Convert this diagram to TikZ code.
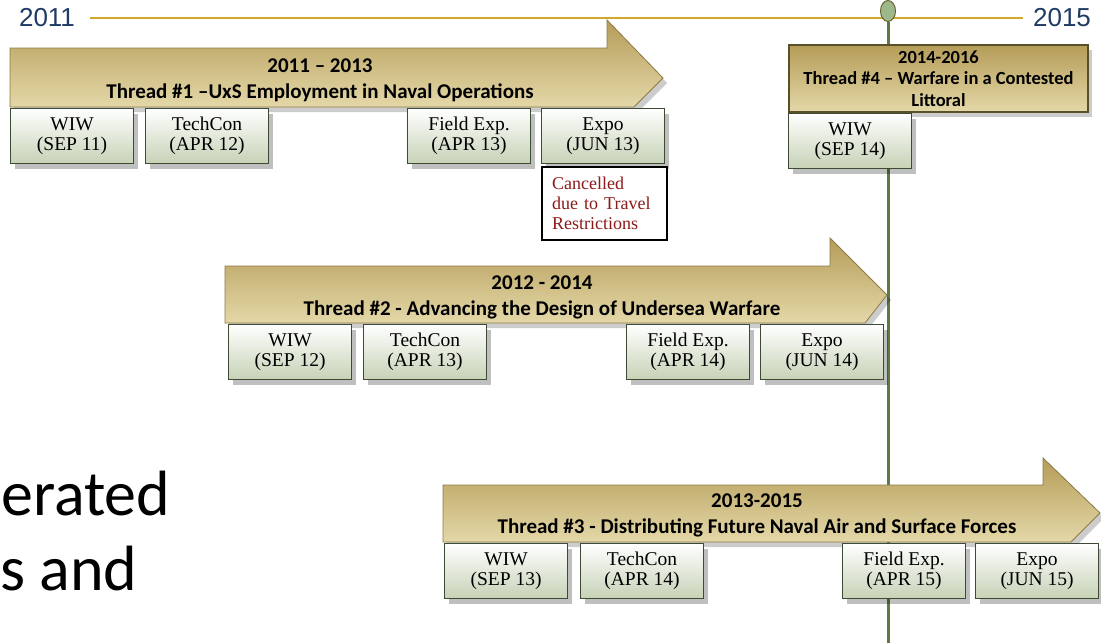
\documentclass[tikz,border=0pt]{standalone}
\usepackage{fontspec}
\setmainfont{Liberation Serif}
\newfontfamily\calibri[Ligatures=TeX]{Carlito}
\newfontfamily\arialfont{Liberation Sans}
\usepackage{tikz}
\usetikzlibrary{arrows.meta, positioning, shadows, shapes.geometric}

\definecolor{yearblue}{HTML}{1F3A64}
\definecolor{linegold}{HTML}{D1A92B}
\definecolor{stemgreen}{HTML}{5E7A43}
\definecolor{pinfill}{HTML}{9DB88A}
\definecolor{pinedge}{HTML}{6E6433}
\definecolor{goldA}{HTML}{B59C58}
\definecolor{goldB}{HTML}{E4D8A8}
\definecolor{goldedge}{HTML}{8C7A45}
\definecolor{boxgreen}{HTML}{C6D2B6}
\definecolor{boxedge}{HTML}{3E4B34}
\definecolor{cancelred}{HTML}{8B1A1A}

\tikzset{
  threadarrow/.style={draw=goldedge, line width=0.8pt, top color=goldA, bottom color=goldB,
    drop shadow={shadow xshift=4pt, shadow yshift=-5pt, opacity=0.2, fill=black}},
  threadtitle/.style={font=\calibri\bfseries\fontsize{21}{26}\selectfont, align=center, inner sep=0pt},
  evtbox/.style={draw=boxedge, line width=1.1pt, top color=white, bottom color=boxgreen,
    minimum width=123pt, minimum height=55pt, anchor=north west, inner sep=0pt,
    align=center, font=\fontsize{19.5}{20.5}\selectfont,
    execute at begin node={\rule{0pt}{18pt}},
    drop shadow={shadow xshift=4pt, shadow yshift=-5pt, opacity=0.25, fill=black}},
  yearlbl/.style={font=\arialfont\fontsize{26}{26}\selectfont, text=yearblue, inner sep=0pt}
}

\begin{document}
\begin{tikzpicture}[x=1pt, y=-1pt]
\useasboundingbox (0,0) rectangle (1101,643);

\node[yearlbl] (y11) at (47,18) {2011};
\node[yearlbl] (y15) at (1062,18) {2015};
\coordinate (stemend) at (888,643);
\draw[linegold, line width=1.2pt] ([xshift=15pt]y11.east) -- ([xshift=-10pt]y15.west);
\node[draw=pinedge, fill=pinfill, line width=1pt, ellipse, minimum width=15pt, minimum height=21pt, inner sep=0pt] (pin) at (888,11) {};
\draw[stemgreen, line width=3pt] (pin.south) -- (stemend);

\draw[threadarrow] (10,48) -- (607,48) -- (607,20) -- (663,78) -- (634,107) -- (10,107) -- cycle;
\node[threadtitle] (t1) at (320,80) {2011 – 2013\\Thread \#1 –UxS Employment in Naval Operations};

\draw[threadarrow] (225,266) -- (830,266) -- (830,238) -- (887,295) -- (865,323) -- (225,323) -- cycle;
\node[threadtitle] (t2) at (542,297) {2012 - 2014\\Thread \#2 - Advancing the Design of Undersea Warfare};

\draw[threadarrow] (443,485) -- (1043,485) -- (1043,458) -- (1100,513) -- (1071,542) -- (443,542) -- cycle;
\node[threadtitle] (t3) at (757,515) {2013-2015\\Thread \#3 - Distributing Future Naval Air and Surface Forces};

\node[draw=pinedge!80!black, line width=2pt, top color=goldA, bottom color=goldB, minimum width=299pt, minimum height=67pt,
  anchor=north west, inner sep=0pt, align=center, font=\calibri\bfseries\fontsize{18.5}{21.5}\selectfont,
  drop shadow={shadow xshift=4pt, shadow yshift=-5pt, opacity=0.2, fill=black}] (t4) at (788,44)
  {2014-2016\\Thread \#4 – Warfare in a Contested\\Littoral};

\node[evtbox] (w11) at (10,108) {WIW\\(SEP 11)};
\node[evtbox] (tc12) at (145,108) {TechCon\\(APR 12)};
\node[evtbox] (fe13) at (407,108) {Field Exp.\\(APR 13)};
\node[evtbox] (ex13) at (541,108) {Expo\\(JUN 13)};
\node[draw=black, line width=2.4pt, fill=white, minimum width=125pt, minimum height=73pt, anchor=north west,
  inner xsep=10pt, text width=105pt, align=left, text=cancelred, font=\fontsize{18}{20}\selectfont] (cancel) at (541,166)
  {Cancelled\\due to Travel\\Restrictions};

\node[evtbox] (w14) at (788,113) {WIW\\(SEP 14)};

\node[evtbox] (w12) at (228,324) {WIW\\(SEP 12)};
\node[evtbox] (tc13) at (363,324) {TechCon\\(APR 13)};
\node[evtbox] (fe14) at (626,324) {Field Exp.\\(APR 14)};
\node[evtbox] (ex14) at (760,324) {Expo\\(JUN 14)};

\node[evtbox] (w13) at (444,543) {WIW\\(SEP 13)};
\node[evtbox] (tc14) at (580,543) {TechCon\\(APR 14)};
\node[evtbox] (fe15) at (842,543) {Field Exp.\\(APR 15)};
\node[evtbox] (ex15) at (975,543) {Expo\\(JUN 15)};

\node[font=\calibri\fontsize{64}{64}\selectfont, anchor=base west, inner sep=0pt] (body1) at (1,515) {erated};
\node[font=\calibri\fontsize{64}{64}\selectfont, anchor=base west, inner sep=0pt] (body2) at (0,590) {s and};
\end{tikzpicture}
\end{document}
